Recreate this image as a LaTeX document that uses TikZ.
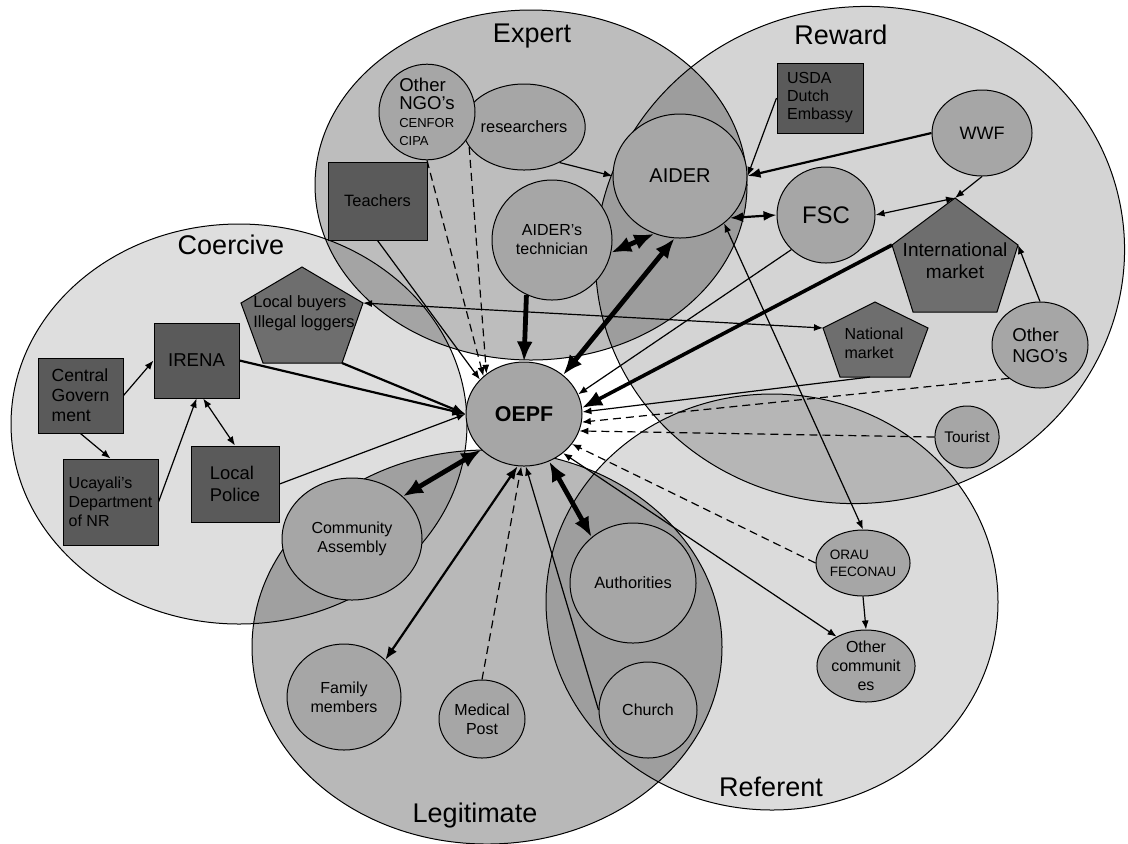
\documentclass[tikz,border=0pt]{standalone}
\usepackage{fontspec}
\setmainfont{Liberation Sans}
\usetikzlibrary{shapes.geometric,arrows.meta}

\definecolor{circgray}{HTML}{A6A6A6}
\definecolor{boxgray}{HTML}{5A5A5A}
\definecolor{pentgray}{HTML}{6E6E6E}

\begin{document}
\begin{tikzpicture}[x=0.5pt,y=-0.5pt,
  zone/.style={draw=black, line width=.5pt, fill=black},
  zonelbl/.style={inner sep=0pt, font=\fontsize{13.5}{15}\selectfont},
  actor/.style={ellipse, draw, line width=.5pt, fill=circgray, inner sep=0pt,
    align=center, font=\fontsize{8}{9.5}\selectfont},
  agency/.style={rectangle, draw, line width=.5pt, fill=boxgray, inner sep=0pt,
    align=left, font=\fontsize{8}{9.5}\selectfont},
  market/.style={draw, line width=.5pt, fill=pentgray},
  mkttxt/.style={inner sep=1pt, align=left, font=\fontsize{8}{9.5}\selectfont},
  link/.style={line width=.6pt, >={Latex[length=4.5pt,width=3.5pt]}},
  linkmid/.style={line width=1.1pt, >={Latex[length=6.5pt,width=5pt]}},
  linkbig/.style={line width=2.4pt, >={Latex[length=10pt,width=8pt]}},
  hint/.style={link, dash pattern=on 4pt off 2.5pt}]

  \useasboundingbox (0,0) rectangle (1128,843);
  \fill[white] (0,0) rectangle (1128,843);

  % the five bases of power
  \filldraw[zone, fill opacity=.13] (239,424) ellipse [x radius=228, y radius=200];
  \filldraw[zone, fill opacity=.26] (531,185) ellipse [x radius=216, y radius=175];
  \filldraw[zone, fill opacity=.17, rotate around={10:(860,255)}] (860,255) ellipse [x radius=265, y radius=248];
  \filldraw[zone, fill opacity=.28] (487,647) ellipse [x radius=235, y radius=197];
  \filldraw[zone, fill opacity=.14] (772,602) ellipse [x radius=226, y radius=208];

  \node[zonelbl] (coercive) at (231,245) {Coercive};
  \node[zonelbl] (expert) at (532,36) {Expert};
  \node[zonelbl] (reward) at (841,35) {Reward};
  \node[zonelbl] (legitimate) at (475,815) {Legitimate};
  \node[zonelbl] (referent) at (771,787) {Referent};

  % actors
  \node[actor, minimum width=58pt, minimum height=52pt, font=\fontsize{10.7}{12}\bfseries] (oepf) at (524,414) {OEPF};
  \node[actor, minimum width=67pt, minimum height=62pt, font=\fontsize{10}{12}\selectfont] (aider) at (680,176) {AIDER};
  \node[actor, minimum width=60pt, minimum height=60pt] (tech) at (552,240) {AIDER's\\technician};
  \node[actor, minimum width=46pt, minimum height=43pt, font=\fontsize{8.2}{9.5}\selectfont] (resr) at (524,127) {researchers};
  \node[actor, minimum width=48pt, minimum height=40pt, align=left, font=\fontsize{9.3}{9}\selectfont] (ongo) at (427,112)
    {Other\\NGO's\\\fontsize{6.5}{8.5}\selectfont CENFOR\\\fontsize{6.5}{8.5}\selectfont CIPA};
  \node[actor, minimum width=50pt, minimum height=43pt, font=\fontsize{9}{11}\selectfont] (wwf) at (982,133) {WWF};
  \node[actor, minimum width=49pt, minimum height=48pt, font=\fontsize{12}{14}\selectfont] (fsc) at (826,215) {FSC};
  \node[actor, minimum width=48pt, minimum height=43pt, align=left, font=\fontsize{9.3}{10.5}\selectfont] (rngo) at (1040,345) {Other\\NGO's};
  \node[actor, minimum width=31pt, minimum height=31pt, font=\fontsize{7.7}{9}\selectfont] (tour) at (967,437) {Tourist};
  \node[actor, minimum width=41pt, minimum height=33pt, align=left, font=\fontsize{6.8}{8.5}\selectfont] (orau) at (863,563) {ORAU\\FECONAU};
  \node[actor, minimum width=38pt, minimum height=36pt] (ocom) at (866,666) {Other\\communit\\es};
  \node[actor, minimum width=63pt, minimum height=60pt, font=\fontsize{8.2}{9.5}\selectfont] (auth) at (633,583) {Authorities};
  \node[actor, minimum width=49pt, minimum height=48pt] (church) at (648,710) {Church};
  \node[actor, minimum width=43pt, minimum height=39pt] (medp) at (482,719) {Medical\\Post};
  \node[actor, minimum width=57pt, minimum height=53pt] (fam) at (344,697) {Family\\members};
  \node[actor, minimum width=70pt, minimum height=61pt] (comm) at (352,539) {Community\\Assembly};

  % agencies
  \node[agency, minimum width=49.5pt, minimum height=39pt, font=\fontsize{8.2}{9.5}\selectfont] (teach) at (377.5,201) {Teachers};
  \node[agency, minimum width=43pt, minimum height=35pt, font=\fontsize{8}{9}\selectfont] (usda) at (820,98) {USDA\\Dutch\\Embassy};
  \node[agency, minimum width=42.5pt, minimum height=37.5pt, font=\fontsize{8.8}{10}\selectfont] (cgov) at (80.5,395.5) {Central\\Govern\\ment};
  \node[agency, minimum width=42.5pt, minimum height=37.5pt, font=\fontsize{9.3}{11}\selectfont] (irena) at (196.5,360.5) {IRENA};
  \node[agency, minimum width=47.5pt, minimum height=43pt] (ucay) at (110.5,502) {Ucayali's\\Department\\of NR};
  \node[agency, minimum width=44pt, minimum height=38pt, font=\fontsize{9.2}{11}\selectfont] (police) at (235,484) {Local\\Police};

  % markets
  \coordinate (lb-n) at (302,267);
  \coordinate (lb-e) at (363,303);
  \coordinate (lb-se) at (342,363);
  \coordinate (lb-sw) at (263,363);
  \coordinate (lb-w) at (241,303);
  \filldraw[market] (lb-n) -- (lb-e) -- (lb-se) -- (lb-sw) -- (lb-w) -- cycle;
  \node[mkttxt, font=\fontsize{8.2}{10}\selectfont] (locbuy) at (304,313) {Local buyers\\Illegal loggers};

  \coordinate (im-n) at (955,198);
  \coordinate (im-e) at (1018,245);
  \coordinate (im-se) at (997,312);
  \coordinate (im-sw) at (913,312);
  \coordinate (im-w) at (892,245);
  \filldraw[market] (im-n) -- (im-e) -- (im-se) -- (im-sw) -- (im-w) -- cycle;
  \node[mkttxt, align=center, font=\fontsize{9.5}{11}\selectfont] (intm) at (955,261) {International\\market};

  \coordinate (nm-n) at (875,302);
  \coordinate (nm-e) at (928,328);
  \coordinate (nm-se) at (910,377);
  \coordinate (nm-sw) at (840,377);
  \coordinate (nm-w) at (823,328);
  \coordinate (nm-s) at (870,377);
  \filldraw[market] (nm-n) -- (nm-e) -- (nm-se) -- (nm-sw) -- (nm-w) -- cycle;
  \node[mkttxt] (natm) at (874,343) {National\\market};

  % coercive links
  \draw[link,->] (cgov.east) -- (irena.west);
  \draw[link,->] (cgov.south) -- (ucay.north);
  \draw[link,->] (ucay.east) -- (irena.south);
  \draw[link,<->] (irena.-80) -- (police.north);
  \draw[linkmid,->] (irena.east) -- (oepf.west);
  \draw[linkmid,->] (lb-se) -- (oepf.west);
  \draw[link,->] (police.east) -- (oepf.west);
  \draw[link,<->] (lb-e) -- (nm-w);

  % expert links
  \draw[link,->] (teach.south) -- (oepf.142);
  \draw[hint,->] (ongo.south) -- (oepf.137);
  \draw[hint,->] (resr.200) -- (oepf.133);
  \draw[link,->] (resr.-45) -- (aider.west);
  \draw[linkbig,->] (tech.245) -- (oepf.north);
  \draw[linkbig,<->] (aider.246) -- (tech.-12);
  \draw[linkbig,<->] (aider.265) -- (oepf.45);

  % reward links
  \draw[link,->] (usda.west) -- (aider.east);
  \draw[linkmid,->] (wwf.west) -- (aider.east);
  \draw[linkmid,<->] (aider.-40) -- (fsc.west);
  \draw[link,<->] (fsc.east) -- (im-n);
  \draw[link,->] (wwf.south) -- (im-n);
  \draw[link,->] (rngo.north) -- (im-e);
  \draw[link,->] (fsc.-135) -- (oepf.20);
  \draw[linkbig,line width=1.8pt,->] (im-w) -- (oepf.6);
  \draw[link,->] (nm-s) -- (oepf.2);
  \draw[hint,->] (rngo.227) -- (oepf.-8);
  \draw[hint,->] (tour.west) -- (oepf.-17);

  % referent links
  \draw[link,<->] (aider.-47) -- (orau.north);
  \draw[hint,->] (orau.west) -- (oepf.-32);
  \draw[link,->] (orau.south) -- (ocom.north);
  \draw[link,<->] (oepf.-45) -- (ocom.135);

  % legitimate links
  \draw[linkbig,<->] (oepf.220) -- (comm.40);
  \draw[linkmid,<->] (oepf.-97) -- (fam.42);
  \draw[hint,->] (medp.north) -- (oepf.-93);
  \draw[link,->] (church.west) -- (oepf.-88);
  \draw[linkbig,<->] (oepf.-62) -- (auth.132);
\end{tikzpicture}
\end{document}
